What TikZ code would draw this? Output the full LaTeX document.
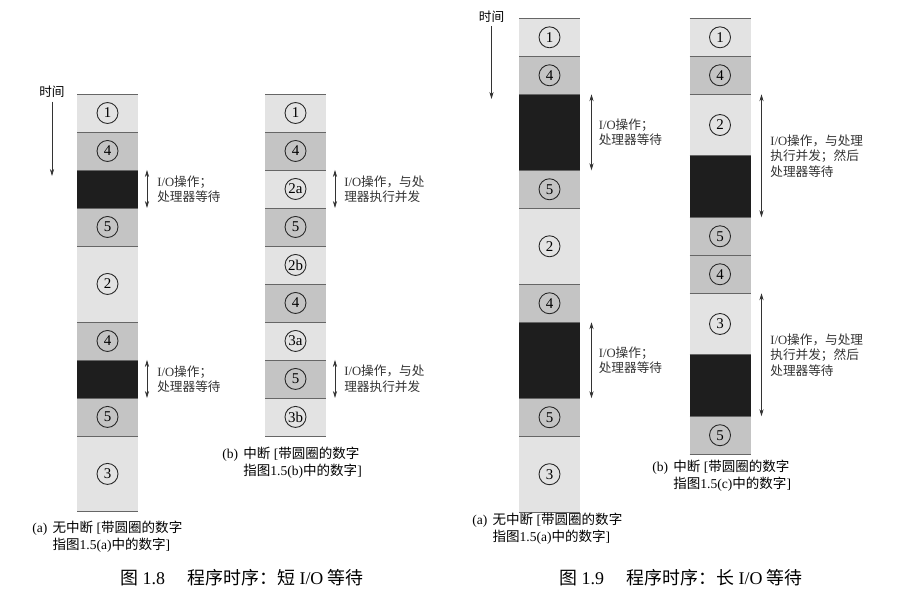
\documentclass[tikz,border=0pt]{standalone}
\usepackage{fontspec}
\setmainfont{Liberation Serif}
\newfontfamily\cjk{Noto Sans CJK SC}
\usepackage{tikz}
\usetikzlibrary{positioning,arrows.meta}
\newcommand{\zhs}[1]{{\cjk #1}}
\definecolor{grigiochiaro}{HTML}{E3E3E3}
\definecolor{grigiomedio}{HTML}{C4C4C4}
\definecolor{grigioscuro}{HTML}{1E1E1E}

\begin{document}
\begin{tikzpicture}[x=0.02cm, y=-0.02cm,
    >={Stealth[length=4pt,width=2.4pt]},
    blocco/.style={minimum width=1.22cm, minimum height=0.76cm, inner sep=0pt, outer sep=0pt, font=\fontsize{8.5}{8.5}\selectfont},
    doppio/.style={minimum height=1.52cm},
    lungo/.style={minimum height=1.23cm},
    cerchio/.style={path picture={\draw[black!85, line width=0.5pt] (path picture bounding box.center) circle (0.21cm);}},
    chiaro/.style={blocco, fill=grigiochiaro, cerchio},
    medio/.style={blocco, fill=grigiomedio, cerchio},
    nero/.style={blocco, fill=grigioscuro},
    linea/.style={draw=black!60, line width=0.5pt},
    freccia/.style={->, black!80, line width=0.4pt},
    io/.style={<->, black!80, line width=0.4pt},
    testo/.style={right, inner sep=0pt, align=left, font=\fontsize{7.2}{8.8}\selectfont},
    didascalia/.style={anchor=west, inner sep=0pt, font=\fontsize{7.7}{9.6}\selectfont},
    titolo/.style={inner sep=0pt, font=\fontsize{10.2}{12}\selectfont}]

    \useasboundingbox (0,0) rectangle (909,599);

    % 1. Colonna (a) - Figura 1.8, senza interruzioni
    \node[chiaro, anchor=north] (a1) at (107.5,94) {1};
    \node[medio, below=0pt of a1] (a2) {4};
    \node[nero, below=0pt of a2] (a3) {};
    \node[medio, below=0pt of a3] (a4) {5};
    \node[chiaro, doppio, below=0pt of a4] (a5) {2};
    \node[medio, below=0pt of a5] (a6) {4};
    \node[nero, below=0pt of a6] (a7) {};
    \node[medio, below=0pt of a7] (a8) {5};
    \node[chiaro, doppio, below=0pt of a8] (a9) {3};

    % 2. Colonna (b) - Figura 1.8, con interruzioni
    \node[chiaro, anchor=north] (b1) at (295.5,94) {1};
    \node[medio, below=0pt of b1] (b2) {4};
    \node[chiaro, below=0pt of b2] (b3) {2a};
    \node[medio, below=0pt of b3] (b4) {5};
    \node[chiaro, below=0pt of b4] (b5) {2b};
    \node[medio, below=0pt of b5] (b6) {4};
    \node[chiaro, below=0pt of b6] (b7) {3a};
    \node[medio, below=0pt of b7] (b8) {5};
    \node[chiaro, below=0pt of b8] (b9) {3b};

    % 3. Colonna (a) - Figura 1.9, attesa lunga
    \node[chiaro, anchor=north] (c1) at (549.5,18.3) {1};
    \node[medio, below=0pt of c1] (c2) {4};
    \node[nero, doppio, below=0pt of c2] (c3) {};
    \node[medio, below=0pt of c3] (c4) {5};
    \node[chiaro, doppio, below=0pt of c4] (c5) {2};
    \node[medio, below=0pt of c5] (c6) {4};
    \node[nero, doppio, below=0pt of c6] (c7) {};
    \node[medio, below=0pt of c7] (c8) {5};
    \node[chiaro, doppio, below=0pt of c8] (c9) {3};

    % 4. Colonna (b) - Figura 1.9, con interruzioni
    \node[chiaro, anchor=north] (d1) at (720,18.3) {1};
    \node[medio, below=0pt of d1] (d2) {4};
    \node[chiaro, lungo, below=0pt of d2] (d3) {2};
    \node[nero, lungo, below=0pt of d3] (d4) {};
    \node[medio, below=0pt of d4] (d5) {5};
    \node[medio, below=0pt of d5] (d6) {4};
    \node[chiaro, lungo, below=0pt of d6] (d7) {3};
    \node[nero, lungo, below=0pt of d7] (d8) {};
    \node[medio, below=0pt of d8] (d9) {5};

    % 5. Linee di separazione tra i blocchi
    \foreach \c in {a,b,c,d} {
        \foreach \i in {1,...,9}
            \draw[linea] (\c\i.north west) -- (\c\i.north east);
        \draw[linea] (\c9.south west) -- (\c9.south east);
    }

    % 6. Asse del tempo
    \node[inner sep=0pt, font=\fontsize{7.2}{8}\selectfont] (tempoA) at (52,92) {\zhs{时间}};
    \coordinate (fineA) at (52,176);
    \draw[freccia] ([yshift=-2pt]tempoA.south) -- (fineA);
    \node[inner sep=0pt, font=\fontsize{7.2}{8}\selectfont] (tempoC) at (491.5,16.5) {\zhs{时间}};
    \coordinate (fineC) at (491.5,99);
    \draw[freccia] ([yshift=-2pt]tempoC.south) -- (fineC);

    % 7. Frecce I/O con testo
    \draw[io] ([xshift=0.18cm]a3.north east) -- ([xshift=0.18cm]a3.south east)
        node[midway, testo, xshift=0.2cm] (ta1) {I/O\zhs{操作；}\\\zhs{处理器等待}};
    \draw[io] ([xshift=0.18cm]a7.north east) -- ([xshift=0.18cm]a7.south east)
        node[midway, testo, xshift=0.2cm] (ta2) {I/O\zhs{操作；}\\\zhs{处理器等待}};
    \draw[io] ([xshift=0.18cm]b3.north east) -- ([xshift=0.18cm]b3.south east)
        node[midway, testo, xshift=0.18cm] (tb1) {I/O\zhs{操作，与处}\\\zhs{理器执行并发}};
    \draw[io] ([xshift=0.18cm]b8.north east) -- ([xshift=0.18cm]b8.south east)
        node[midway, testo, xshift=0.18cm] (tb2) {I/O\zhs{操作，与处}\\\zhs{理器执行并发}};
    \draw[io] ([xshift=0.23cm]c3.north east) -- ([xshift=0.23cm]c3.south east)
        node[midway, testo, xshift=0.14cm] (tc1) {I/O\zhs{操作；}\\\zhs{处理器等待}};
    \draw[io] ([xshift=0.23cm]c7.north east) -- ([xshift=0.23cm]c7.south east)
        node[midway, testo, xshift=0.14cm] (tc2) {I/O\zhs{操作；}\\\zhs{处理器等待}};
    \draw[io] ([xshift=0.22cm]d3.north east) -- ([xshift=0.22cm]d4.south east)
        node[midway, testo, xshift=0.17cm] (td1) {I/O\zhs{操作，与处理}\\\zhs{执行并发；然后}\\\zhs{处理器等待}};
    \draw[io] ([xshift=0.22cm]d7.north east) -- ([xshift=0.22cm]d8.south east)
        node[midway, testo, xshift=0.17cm] (td2) {I/O\zhs{操作，与处理}\\\zhs{执行并发；然后}\\\zhs{处理器等待}};

    % 8. Didascalie delle colonne
    \node[didascalia] (capA) at (32,538) {\begin{tabular}{@{}l@{\hspace{3pt}}l@{}}(a) & \zhs{无中断} [\zhs{带圆圈的数字}\\ & \zhs{指图}1.5(a)\zhs{中的数字}]\end{tabular}};
    \node[didascalia] (capB) at (222,464) {\begin{tabular}{@{}l@{\hspace{3pt}}l@{}}(b) & \zhs{中断} [\zhs{带圆圈的数字}\\ & \zhs{指图}1.5(b)\zhs{中的数字}]\end{tabular}};
    \node[didascalia] (capC) at (472,530) {\begin{tabular}{@{}l@{\hspace{3pt}}l@{}}(a) & \zhs{无中断} [\zhs{带圆圈的数字}\\ & \zhs{指图}1.5(a)\zhs{中的数字}]\end{tabular}};
    \node[didascalia] (capD) at (652,477) {\begin{tabular}{@{}l@{\hspace{3pt}}l@{}}(b) & \zhs{中断} [\zhs{带圆圈的数字}\\ & \zhs{指图}1.5(c)\zhs{中的数字}]\end{tabular}};

    % 9. Titoli delle figure
    \node[titolo] (fig8) at (242,578) {\zhs{图} 1.8\hspace{0.45cm}\zhs{程序时序：短} I/O \zhs{等待}};
    \node[titolo] (fig9) at (681,578) {\zhs{图} 1.9\hspace{0.45cm}\zhs{程序时序：长} I/O \zhs{等待}};

\end{tikzpicture}
\end{document}
